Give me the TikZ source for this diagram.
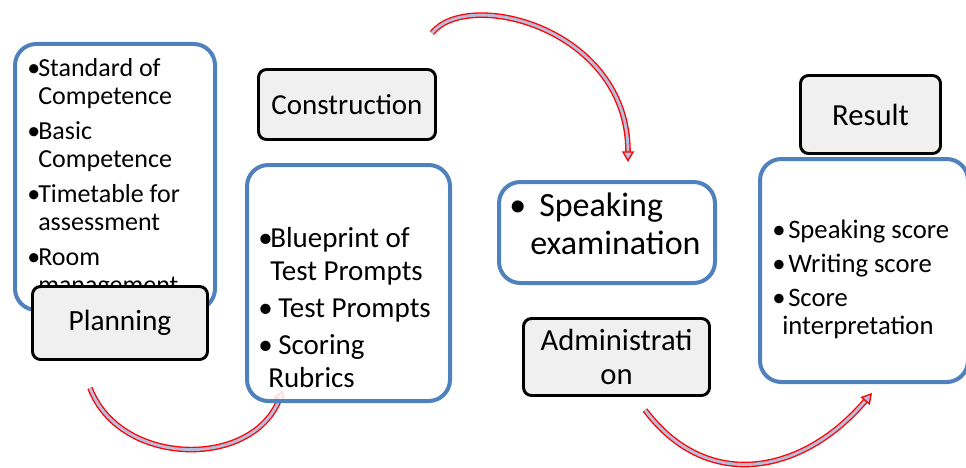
\documentclass[tikz,border=0pt]{standalone}
\usepackage{fontspec}
\setmainfont{Carlito}
\usetikzlibrary{arrows.meta,positioning}
\definecolor{boxblue}{RGB}{79,129,189}
\definecolor{labelgray}{RGB}{240,240,240}
\definecolor{flowfill}{RGB}{185,188,218}

\begin{document}
\begin{tikzpicture}[
  x=0.75pt, y=-0.75pt,
  listbox/.style={draw=boxblue, line width=3pt, rounded corners=16pt, fill=white},
  stagebox/.style={draw=black, line width=2.2pt, rounded corners=6pt, fill=labelgray, align=center},
  items/.style={anchor=north west, inner sep=0pt, align=left},
  flow/.style={draw=red, line width=1pt, double=flowfill, double distance=2.2pt,
    -{Triangle[length=8pt, width=9pt, fill=flowfill]}}
]
\path[use as bounding box, fill=white] (0,0) rectangle (966,467);

% free ends of the curved arrows
\coordinate (planout) at (90,388);
\coordinate (consin) at (283,390);
\coordinate (consout) at (432,33);
\coordinate (speakin) at (628,162);
\coordinate (adminout) at (645,410);
\coordinate (resultin) at (872,393);

% planning -> construction (runs under the box)
\draw[flow] (planout) .. controls (120,467) and (252,469) .. (consin);

% Planning
\node[listbox, minimum width=150pt, minimum height=199.5pt] (planlist) at (115,177) {};
\node[items, font=\fontsize{19.5pt}{21pt}\selectfont] (planitems) at (27,58)
  {\makebox[8.25pt][l]{•}Standard of\\\hspace*{8.25pt}Competence\\[5.25pt]
   \makebox[8.25pt][l]{•}Basic\\\hspace*{8.25pt}Competence\\[5.25pt]
   \makebox[8.25pt][l]{•}Timetable for\\\hspace*{8.25pt}assessment\\[5.25pt]
   \makebox[8.25pt][l]{•}Room\\\hspace*{8.25pt}management};
\node[stagebox, minimum width=131.25pt, minimum height=54.75pt,
  font=\fontsize{22pt}{26pt}\selectfont] (plan) at (120,323) {Planning};

% Construction
\node[stagebox, minimum width=132.75pt, minimum height=52.5pt,
  font=\fontsize{21.75pt}{26pt}\selectfont] (cons) at (347,104.5) {Construction};
\node[listbox, fill opacity=0.85, minimum width=152.25pt, minimum height=177pt] (conslist) at (348.5,283) {};
\node[items, font=\fontsize{21.75pt}{24.75pt}\selectfont] (consitems) at (258,227)
  {\makebox[9pt][l]{•}Blueprint of\\\hspace*{9pt}Test Prompts\\[3pt]
   \makebox[15pt][l]{•}Test Prompts\\[3pt]
   \makebox[15pt][l]{•}Scoring\\\hspace*{7.5pt}Rubrics};

% construction -> administration
\draw[flow] (consout) .. controls (468,-12) and (628,28) .. (speakin);

% Administration
\node[listbox, minimum width=162pt, minimum height=75.75pt] (speak) at (607,232.5) {};
\node[items, font=\fontsize{25.5pt}{28.5pt}\selectfont] (speakitems) at (509,193)
  {\makebox[22.5pt][l]{•}Speaking\\\hspace*{15.75pt}examination};
\node[stagebox, minimum width=139.5pt, minimum height=57.75pt,
  font=\fontsize{23pt}{26pt}\selectfont] (admin) at (616.5,357) {Administrati\\on};

% administration -> result
\draw[flow] (adminout) .. controls (708,494) and (804,473) .. (resultin);

% Result
\node[stagebox, minimum width=105pt, minimum height=58.5pt,
  font=\fontsize{23pt}{26pt}\selectfont] (result) at (870.5,114.5) {Result};
\node[listbox, minimum width=156pt, minimum height=167.25pt] (resultlist) at (864,270.5) {};
\node[items, font=\fontsize{20pt}{21pt}\selectfont] (resultitems) at (772,220)
  {\makebox[12pt][l]{•}Speaking score\\[4.5pt]
   \makebox[12pt][l]{•}Writing score\\[4.5pt]
   \makebox[12pt][l]{•}Score\\\hspace*{7.5pt}interpretation};

\end{tikzpicture}
\end{document}
